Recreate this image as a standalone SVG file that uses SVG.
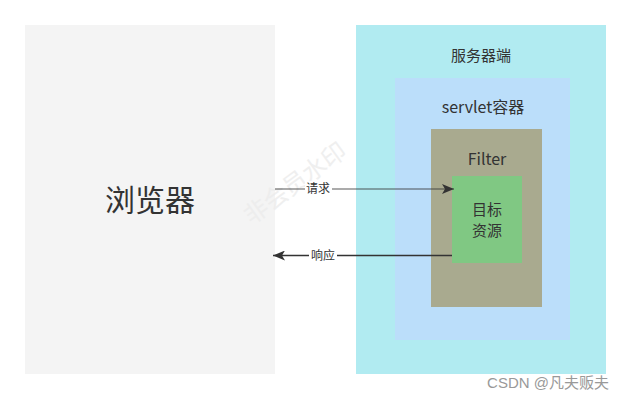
<svg xmlns="http://www.w3.org/2000/svg" width="631" height="400" viewBox="0 0 631 400">
<defs>
<style>
text{font-family:"Noto Sans CJK SC","Noto Sans",sans-serif;fill:#333;text-anchor:middle}
.lbl{font-size:12px}
</style>
<marker id="ah" viewBox="0 0 12 10" refX="12" refY="5" markerWidth="12" markerHeight="10" markerUnits="userSpaceOnUse" orient="auto">
<path d="M0,0 L12,5 L0,10 L3,5 Z" fill="#333"/>
</marker>
</defs>
<rect width="631" height="400" fill="#fff"/>
<g id="browser">
<rect x="25" y="25" width="250" height="349" fill="#f4f4f4"/>
<text x="150" y="211" style="font-size:30px">浏览器</text>
</g>
<g id="server">
<rect x="356" y="25" width="250" height="349" fill="#b1ebf1"/>
<text x="481" y="61" style="font-size:15px">服务器端</text>
</g>
<g id="servlet">
<rect x="395" y="78" width="175" height="262" fill="#bbdefa"/>
<text x="483" y="113" style="font-size:16px">servlet容器</text>
</g>
<g id="filter">
<rect x="431" y="129" width="111" height="178" fill="#a9aa8f"/>
<text x="487" y="165" style="font-size:16px">Filter</text>
</g>
<g id="target">
<rect x="452" y="176" width="70" height="87" fill="#80c883"/>
<text x="487" y="215" style="font-size:15px">目标</text>
<text x="487" y="236" style="font-size:15px">资源</text>
</g>
<text x="300" y="190" transform="rotate(-36 300 190)" style="font-size:24px;fill:#ececec;opacity:0.8">非会员水印</text>
<g id="connectors">
<line x1="275" y1="189" x2="454" y2="189" stroke="#333" stroke-opacity="0.55" stroke-width="1.5" marker-end="url(#ah)"/>
<rect x="305" y="181" width="27" height="16" fill="#fff"/>
<text class="lbl" x="318" y="193">请求</text>
<line x1="452" y1="255.5" x2="273" y2="255.5" stroke="#333" stroke-width="1.5" marker-end="url(#ah)"/>
<rect x="309" y="247" width="28" height="16" fill="#fff"/>
<text class="lbl" x="323" y="260">响应</text>
</g>
<text x="548" y="388" style="font-family:'Liberation Sans','Noto Sans CJK SC',sans-serif;font-size:15px;fill:#999">CSDN @凡夫贩夫</text>
</svg>
